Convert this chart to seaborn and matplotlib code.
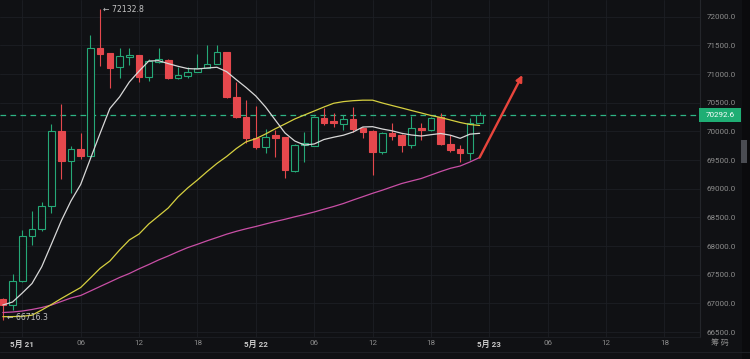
import numpy as np
import pandas as pd
import matplotlib
matplotlib.use("Agg")
import matplotlib.pyplot as plt
import matplotlib.transforms as mtransforms
from matplotlib.patches import Rectangle
import seaborn as sns

# ---------------- data (hourly candles, hour 0 = 5月21 00:00) ----------------
hours = list(range(-2, 48))
opens = [67071, 66972, 67391, 68175, 68303, 68699, 70007, 69489, 69693, 69576,
         71459, 71362, 71128, 71300, 71332, 70943, 71215, 71245, 70926, 70966,
         71041, 71111, 71175, 71379, 70605, 70246, 69879, 69733, 69928, 69897,
         69315, 69762, 69750, 70240, 70186, 70128, 70210, 70054, 70012, 69646,
         69966, 69937, 69762, 70054, 70025, 70246, 69780, 69693, 69628, 70151]
highs = [67100, 67513, 68280, 68617, 68768, 70129, 70477, 69750, 69966, 71681,
         72132.8, 71370, 71459, 71449, 71340, 71260, 71459, 71260, 71128, 71128,
         71344, 71506, 71506, 71390, 70866, 70547, 70450, 70036, 70024, 69910,
         69780, 69994, 70260, 70402, 70315, 70286, 70430, 70082, 70020, 69994,
         70151, 69950, 70268, 70140, 70256, 70315, 69937, 69762, 70228, 70343]
lows = [66716.3, 66885, 67380, 68018, 68268, 68571, 69169, 68920, 69513, 69560,
        71140, 70751, 70926, 71158, 70866, 70879, 71190, 70910, 70915, 70930,
        71030, 71100, 71170, 70577, 70230, 69797, 69700, 69628, 69558, 69182,
        69300, 69471, 69750, 70111, 70082, 70024, 69994, 69879, 69239, 69600,
        69850, 69646, 69705, 69850, 70000, 69770, 69646, 69471, 69501, 70140]
closes = [66972, 67391, 68175, 68303, 68699, 70007, 69483, 69693, 69576, 71459,
          71344, 71111, 71315, 71330, 70943, 71233, 71257, 70926, 70983, 71041,
          71111, 71175, 71379, 70605, 70246, 69879, 69733, 69907, 69879, 69326,
          69762, 69790, 70246, 70151, 70140, 70210, 70036, 69994, 69646, 69966,
          69920, 69762, 70054, 70025, 70228, 69780, 69675, 69628, 70151, 70292.6]

ma_fast = [66972, 67024, 67181, 67347, 67640, 68036, 68437, 68786, 69074, 69522,
           69966, 70399, 70601, 70861, 71050, 71227, 71233, 71182, 71135, 71095,
           71088, 71105, 71118, 71041, 70901, 70765, 70617, 70425, 70198, 69972,
           69832, 69762, 69780, 69858, 69898, 69933, 69989, 70076, 70082, 70041,
           70010, 69966, 69937, 69919, 69942, 69963, 69933, 69879, 69951, 69966]
ma_mid = [66768, 66770, 66775, 66794, 66885, 66981, 67084, 67181, 67277, 67443,
          67612, 67739, 67931, 68106, 68210, 68385, 68524, 68664, 68856, 69013,
          69152, 69300, 69440, 69562, 69701, 69818, 69872, 69954, 70045, 70129,
          70216, 70286, 70355, 70425, 70490, 70519, 70535, 70544, 70544, 70495,
          70451, 70408, 70364, 70321, 70277, 70242, 70198, 70155, 70120, 70103]
ma_slow = [66841, 66850, 66867, 66894, 66928, 66972, 67033, 67094, 67138, 67216,
           67295, 67373, 67452, 67521, 67603, 67678, 67757, 67827, 67902, 67973,
           68031, 68092, 68149, 68207, 68257, 68301, 68341, 68385, 68428, 68467,
           68510, 68550, 68594, 68643, 68690, 68742, 68803, 68861, 68920, 68974,
           69033, 69091, 69135, 69178, 69239, 69300, 69356, 69396, 69466, 69544]

last_price = 70292.6
high_hour, high_price = 8, 72132.8
low_hour, low_price = -2, 66716.3
trend_x = [47, 51.4]
trend_y = [69544, 70983]

tick_hours = [0, 6, 12, 18, 24, 30, 36, 42, 48, 54, 60, 66]
tick_labels = ["5月 21", "06", "12", "18", "5月 22", "06", "12", "18",
               "5月 23", "06", "12", "18"]
price_ticks = [66500, 67000, 67500, 68000, 68500, 69000, 69500,
               70000, 70500, 71000, 71500, 72000]

# ---------------- style ----------------
BG = "#101114"
GRID = "#1d1f24"
UP = "#25a877"
DOWN = "#e5484d"
sns.set_theme(style="dark", rc={"axes.facecolor": BG, "figure.facecolor": BG})
plt.rcParams["font.family"] = ["Roboto", "Noto Sans CJK SC", "DejaVu Sans"]

W, H = 750, 359
fig = plt.figure(figsize=(W / 100, H / 100), dpi=100)
fig.patch.set_facecolor(BG)
ax = fig.add_axes([0, 22 / H, 700 / W, 337 / H])
ax.set_facecolor(BG)

ax.set_xlim(-2.29, 69.65)
ax.set_ylim(66414, 72291)

# grid
ax.set_xticks(tick_hours)
ax.set_yticks(price_ticks)
ax.grid(True, color=GRID, lw=0.6)
ax.set_axisbelow(True)

# candles
df = pd.DataFrame({"hour": hours, "open": opens, "high": highs,
                   "low": lows, "close": closes})
up = df["close"] >= df["open"]
wick_colors = [UP if u else DOWN for u in up]
ax.vlines(df["hour"], df["low"], df["high"], colors=wick_colors, lw=0.8, zorder=3)
bottoms = np.minimum(df["open"], df["close"])
heights = np.maximum(np.abs(df["close"] - df["open"]), 10)
ax.bar(df["hour"], heights, bottom=bottoms, width=0.68,
       color=[BG if u else DOWN for u in up],
       edgecolor=[UP if u else DOWN for u in up], linewidth=0.8, zorder=4)

# moving averages
ma_df = pd.DataFrame({"hour": hours, "fast": ma_fast, "mid": ma_mid, "slow": ma_slow})
sns.lineplot(data=ma_df, x="hour", y="slow", color="#c94fa6", lw=0.9, ax=ax, zorder=5)
sns.lineplot(data=ma_df, x="hour", y="mid", color="#d6d040", lw=0.9, ax=ax, zorder=5)
sns.lineplot(data=ma_df, x="hour", y="fast", color="#d8d8d8", lw=0.9, ax=ax, zorder=5)
ax.set_xlabel("")
ax.set_ylabel("")

# last price dashed line
ax.axhline(last_price, color="#2fb585", lw=0.9, ls=(0, (4.5, 3.5)), zorder=2)

# trend arrow
ax.annotate("", xy=(trend_x[1], trend_y[1]), xytext=(trend_x[0], trend_y[0]),
            arrowprops=dict(arrowstyle="-|>", color="#e8453c", lw=1.7,
                            mutation_scale=9, shrinkA=0, shrinkB=0), zorder=6)

# high / low markers
ax.text(high_hour + 0.25, high_price, "← " + f"{high_price:.1f}", color="#c4c4c4",
        fontsize=5.6, ha="left", va="center", zorder=7,
        family=["DejaVu Sans"])
ax.text(low_hour + 0.45, low_price + 40, "← " + f"{low_price:.1f}", color="#c4c4c4",
        fontsize=5.6, ha="left", va="center", zorder=7,
        family=["DejaVu Sans"])

# axes ticks
ax.yaxis.tick_right()
ax.set_yticklabels([f"{v:.1f}" for v in price_ticks])
ax.tick_params(axis="y", length=0, pad=4.5, labelsize=5.8, labelcolor="#8c8c8c")
ax.set_xticklabels(tick_labels)
ax.tick_params(axis="x", length=0, pad=2.2, labelsize=5.8, labelcolor="#8c8c8c")
for lab in ax.get_xticklabels():
    if "月" in lab.get_text():
        lab.set_color("#c9c9c9")
        lab.set_fontweight("bold")

for s in ["top", "left"]:
    ax.spines[s].set_visible(False)
ax.spines["right"].set_color("#24262b")
ax.spines["right"].set_linewidth(0.8)
ax.spines["bottom"].set_color("#1d1f24")
ax.spines["bottom"].set_linewidth(0.6)

# last price badge
y_px = ax.transData.transform((0, last_price))[1]
fig.patches.append(Rectangle((699 / W, (y_px - 7) / H), 42 / W, 14 / H,
                             transform=fig.transFigure, facecolor="#1fae74",
                             edgecolor="none", zorder=8))
fig.text(720 / W, y_px / H, f"{last_price:.1f}", color="white", fontsize=5.8,
         ha="center", va="center", zorder=9)

# right strip and scroll handle
fig.patches.append(Rectangle((742 / W, 0), 8 / W, 1, transform=fig.transFigure,
                             facecolor="#0b0b0d", edgecolor="none", zorder=1))
fig.patches.append(Rectangle((741 / W, (H - 163) / H), 6 / W, 23 / H,
                             transform=fig.transFigure, facecolor="#4a4c52",
                             edgecolor="none", zorder=2))

# bottom label on right of x-axis
fig.text(720 / W, (H - 343) / H, "筹 码", color="#8c8c8c", fontsize=5.8,
         ha="center", va="center", family=["Noto Sans CJK SC", "DejaVu Sans"])
# separator for the next panel
fig.add_artist(plt.Line2D([0, 1], [(H - 352) / H] * 2, color="#1d1f24", lw=0.8))

fig.savefig("out.png", dpi=100, facecolor=BG)
